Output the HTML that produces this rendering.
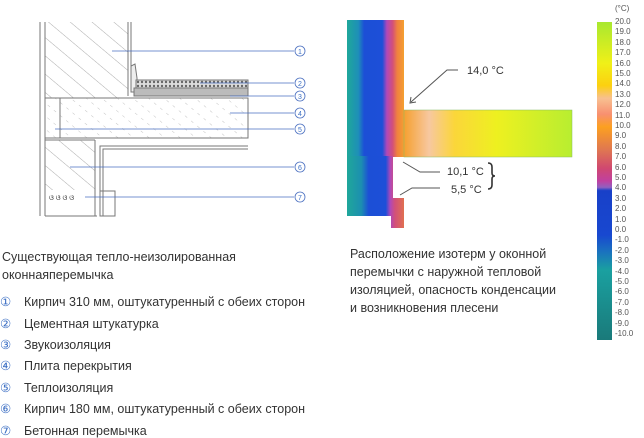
<!DOCTYPE html>
<html><head><meta charset="utf-8"><style>
html,body{margin:0;padding:0;background:#fff;width:644px;height:438px;overflow:hidden}
body{font-family:"Liberation Sans",sans-serif;position:relative}
.t{position:absolute;font-size:12.5px;color:#333;white-space:nowrap}
.c{color:#3c6fc4;display:inline-block;width:24px}
.s{position:absolute;font-size:8px;color:#555;left:615px}
</style></head><body>
<svg width="644" height="438" style="position:absolute;left:0;top:0">
<defs>
<pattern id="h" width="14" height="14" patternUnits="userSpaceOnUse" patternTransform="rotate(-50)"><line x1="0" y1="0" x2="0" y2="14" stroke="#888" stroke-width="0.7"/></pattern>
<pattern id="d" width="10" height="8" patternUnits="userSpaceOnUse" patternTransform="rotate(-50)"><line x1="0" y1="0" x2="0" y2="3" stroke="#aaa" stroke-width="0.7"/></pattern>
<pattern id="x" width="4" height="4" patternUnits="userSpaceOnUse"><rect width="4" height="4" fill="#ddd"/><circle cx="2" cy="2" r="1.2" fill="#666"/></pattern>
<linearGradient id="wg" x1="0" x2="1" y1="0" y2="0">
<stop offset="0" stop-color="#1fa79a"/><stop offset="0.2" stop-color="#1e8fb8"/><stop offset="0.3" stop-color="#1c4fd6"/><stop offset="0.62" stop-color="#1d4fd8"/><stop offset="0.7" stop-color="#b048b8"/><stop offset="0.8" stop-color="#d2507a"/><stop offset="0.88" stop-color="#f08040"/><stop offset="1" stop-color="#f4a030"/></linearGradient>
<linearGradient id="lg" x1="0" x2="1" y1="0" y2="0">
<stop offset="0" stop-color="#f6a030"/><stop offset="0.15" stop-color="#f7c8a0"/><stop offset="0.3" stop-color="#fbd63a"/><stop offset="0.55" stop-color="#eef020"/><stop offset="1" stop-color="#b8ee30"/></linearGradient>
<linearGradient id="lw" x1="347" x2="404" y1="0" y2="0" gradientUnits="userSpaceOnUse">
<stop offset="0" stop-color="#1fa79a"/><stop offset="0.25" stop-color="#1c8fb0"/><stop offset="0.38" stop-color="#1c4fd6"/><stop offset="0.68" stop-color="#1d4fd8"/><stop offset="0.76" stop-color="#b048b8"/><stop offset="0.84" stop-color="#d2507a"/><stop offset="1" stop-color="#e07050"/></linearGradient>
<linearGradient id="cb" x1="0" x2="0" y1="0" y2="1">
<stop offset="0" stop-color="#a8e830"/><stop offset="0.13" stop-color="#f0f018"/><stop offset="0.2" stop-color="#fcd010"/><stop offset="0.24" stop-color="#f8c090"/><stop offset="0.29" stop-color="#f89070"/><stop offset="0.33" stop-color="#fca020"/><stop offset="0.4" stop-color="#e07850"/><stop offset="0.46" stop-color="#d04870"/><stop offset="0.5" stop-color="#c040a0"/><stop offset="0.52" stop-color="#9060c0"/><stop offset="0.53" stop-color="#1840c8"/><stop offset="0.67" stop-color="#1848d0"/><stop offset="0.72" stop-color="#1a70c0"/><stop offset="0.78" stop-color="#1aa0a0"/><stop offset="1" stop-color="#1a7a7a"/></linearGradient>
</defs>
<g stroke="#777" stroke-width="1" fill="none">
<line x1="40" y1="22" x2="40" y2="216"/>
<rect x="45" y="22" width="83" height="76" fill="url(#h)" stroke="none"/>
<line x1="45" y1="22" x2="45" y2="216"/>
<line x1="128" y1="22" x2="128" y2="96"/><line x1="131" y1="22" x2="131" y2="92"/>
<path d="M131 92 L131 66 L135 64 L137 78 L137 92 Z" fill="#eee"/>
<rect x="136" y="80" width="112" height="8" fill="url(#x)"/>
<rect x="134" y="88" width="114" height="8" fill="#bbb"/>
<rect x="45" y="98" width="203" height="40" fill="url(#d)"/>
<line x1="60" y1="98" x2="60" y2="138"/>
<line x1="45" y1="140" x2="95" y2="140"/>
<rect x="45" y="140" width="50" height="50" fill="url(#h)" stroke="none"/>
<line x1="95" y1="140" x2="95" y2="216"/>
<line x1="45" y1="216" x2="97" y2="216"/>
<path d="M100 216 V146 H248 M103 216 V149 H248" />
<rect x="100" y="191" width="15" height="25"/>
<g font-size="7" fill="#333" stroke="none"><text x="49" y="200">ଓ ଓ  ଓ ଓ</text></g>
</g>
<g stroke="#4a6fc0" stroke-width="0.8" fill="none">
<line x1="112" y1="51" x2="294" y2="51"/><line x1="200" y1="83" x2="294" y2="83"/><line x1="230" y1="96" x2="294" y2="96"/>
<line x1="230" y1="113" x2="294" y2="113"/><line x1="55" y1="129" x2="294" y2="129"/><line x1="70" y1="167" x2="294" y2="167"/><line x1="85" y1="197" x2="294" y2="197"/>
<g fill="#fff"><circle cx="300" cy="51" r="5"/><circle cx="300" cy="83" r="5"/><circle cx="300" cy="96" r="5"/><circle cx="300" cy="113" r="5"/><circle cx="300" cy="129" r="5"/><circle cx="300" cy="167" r="5"/><circle cx="300" cy="197" r="5"/></g>
</g>
<g font-size="7" fill="#3c6fc4" text-anchor="middle"><text x="300" y="54">1</text><text x="300" y="86">2</text><text x="300" y="99">3</text><text x="300" y="116">4</text><text x="300" y="132">5</text><text x="300" y="170">6</text><text x="300" y="200">7</text></g>
<rect x="347" y="20" width="57" height="137" fill="url(#wg)"/>
<rect x="404" y="110" width="168" height="47" fill="url(#lg)" stroke="#8b6" stroke-width="0.5"/>
<path d="M347 156 H393 V198 H404 V228 H391 V216 H347 Z" fill="url(#lw)"/>
<g stroke="#555" stroke-width="1" fill="none">
<path d="M458 70 H447 L411 102"/><path d="M411 97 L410 103 L416 102"/>
<path d="M440 172 H420 L403 162"/>
<path d="M440 188 H412 L400 195"/>
<path d="M488 163 q4 0 4 4 v6 q0 3 3 3 q-3 0 -3 3 v6 q0 4 -4 4" stroke-width="1.6" stroke="#333"/>
</g>
<g font-size="11" fill="#333"><text x="467" y="74">14,0 °C</text><text x="447" y="175">10,1 °C</text><text x="451" y="193">5,5 °C</text></g>
<rect x="597" y="22" width="15" height="318" fill="url(#cb)"/>
</svg>
<div class="s" style="top:4px">(°C)</div>
<div class="s" style="top:17px">20.0</div><div class="s" style="top:27px">19.0</div><div class="s" style="top:38px">18.0</div><div class="s" style="top:48px">17.0</div><div class="s" style="top:59px">16.0</div><div class="s" style="top:69px">15.0</div><div class="s" style="top:79px">14.0</div><div class="s" style="top:90px">13.0</div><div class="s" style="top:100px">12.0</div><div class="s" style="top:111px">11.0</div><div class="s" style="top:121px">10.0</div><div class="s" style="top:131px">9.0</div><div class="s" style="top:142px">8.0</div><div class="s" style="top:152px">7.0</div><div class="s" style="top:163px">6.0</div><div class="s" style="top:173px">5.0</div><div class="s" style="top:183px">4.0</div><div class="s" style="top:194px">3.0</div><div class="s" style="top:204px">2.0</div><div class="s" style="top:215px">1.0</div><div class="s" style="top:225px">0.0</div><div class="s" style="top:235px">-1.0</div><div class="s" style="top:246px">-2.0</div><div class="s" style="top:256px">-3.0</div><div class="s" style="top:267px">-4.0</div><div class="s" style="top:277px">-5.0</div><div class="s" style="top:287px">-6.0</div><div class="s" style="top:298px">-7.0</div><div class="s" style="top:308px">-8.0</div><div class="s" style="top:319px">-9.0</div><div class="s" style="top:329px">-10.0</div>
<div class="t" style="left:2px;top:250px">Существующая тепло-неизолированная</div>
<div class="t" style="left:2px;top:268px">оконнаяперемычка</div>
<div class="t" style="left:0px;top:294px"><span class="c">①</span>Кирпич 310 мм, оштукатуренный с обеих сторон</div>
<div class="t" style="left:0px;top:316px"><span class="c">②</span>Цементная штукатурка</div>
<div class="t" style="left:0px;top:337px"><span class="c">③</span>Звукоизоляция</div>
<div class="t" style="left:0px;top:358px"><span class="c">④</span>Плита перекрытия</div>
<div class="t" style="left:0px;top:380px"><span class="c">⑤</span>Теплоизоляция</div>
<div class="t" style="left:0px;top:401px"><span class="c">⑥</span>Кирпич 180 мм, оштукатуренный с обеих сторон</div>
<div class="t" style="left:0px;top:423px"><span class="c">⑦</span>Бетонная перемычка</div>
<div class="t" style="left:350px;top:245px;line-height:18px">Расположение изотерм у оконной<br>перемычки с наружной тепловой<br>изоляцией, опасность конденсации<br>и возникновения плесени</div>
</body></html>
